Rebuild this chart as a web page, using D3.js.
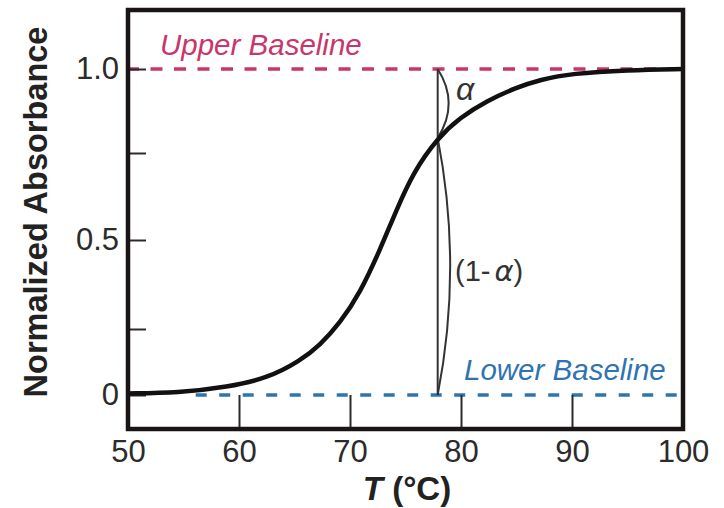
<!DOCTYPE html>
<html>
<head>
<meta charset="utf-8">
<script src="https://cdn.jsdelivr.net/npm/d3@7"></script>
<style>
  html, body { margin: 0; padding: 0; background: #fff; }
  svg { display: block; }
  text { font-family: "Liberation Sans", Arial, sans-serif; }
</style>
</head>
<body>
<svg id="chart" width="724" height="508"></svg>
<script>
// ---- data ----
const temperatures = [50, 54.5, 59, 62.6, 65.5, 67.3, 69.1, 70.9, 72.7, 74.1, 75.7, 77.9, 79.9, 82.3, 85, 87.1, 90, 95, 100];
const absorbance   = [0.006, 0.008, 0.030, 0.064, 0.129, 0.189, 0.267, 0.351, 0.472, 0.580, 0.695, 0.795, 0.855, 0.905, 0.945, 0.968, 0.987, 0.997, 1.0];
const xTickLabels = [50, 60, 70, 80, 90, 100];
const xInnerTicks = [60, 70, 80, 90];
const yTickLabels = [0, 0.5, 1.0];
const yMinorTicks = [0, 0.25, 0.5, 0.75, 1.0];
const upperBaseline = 1.0;
const lowerBaseline = 0.0;
const lowerBaselineStart = 56.1;
const markerT = 77.9;
const markerValue = 0.795;

const svg = d3.select("#chart");
const mLeft = 128, mRight = 683, mTop = 10, mBottom = 429;

const x = d3.scaleLinear().domain([50, 100]).range([mLeft, mRight]);
const y = d3.scaleLinear().domain([0, 0.25, 0.5, 0.75, 1.0]).range([395, 329, 240, 153, 69]);

// baselines
svg.append("line")
  .attr("x1", x(50) - 1).attr("x2", x(100))
  .attr("y1", y(upperBaseline)).attr("y2", y(upperBaseline))
  .attr("stroke", "#c8366b").attr("stroke-width", 3.5)
  .attr("stroke-dasharray", "12,11.5");
svg.append("line")
  .attr("x1", x(lowerBaselineStart)).attr("x2", x(100))
  .attr("y1", y(lowerBaseline)).attr("y2", y(lowerBaseline))
  .attr("stroke", "#2f74b0").attr("stroke-width", 3.5)
  .attr("stroke-dasharray", "11,12.5");

// inner x ticks
svg.append("g")
  .attr("transform", `translate(0,${mBottom})`)
  .call(d3.axisBottom(x).tickValues(xInnerTicks).tickSize(-(mBottom - y(0))).tickFormat(""))
  .call(g => g.select(".domain").remove())
  .call(g => g.selectAll("line").attr("stroke", "#2a2a2a").attr("stroke-width", 2));

// inner y ticks
svg.append("g")
  .attr("transform", `translate(${mLeft},0)`)
  .call(d3.axisLeft(y).tickValues(yMinorTicks).tickSize(-18).tickFormat(""))
  .call(g => g.select(".domain").remove())
  .call(g => g.selectAll("line").attr("stroke", "#2a2a2a").attr("stroke-width", 2));

// x labels
svg.append("g")
  .attr("transform", `translate(0,${mBottom})`)
  .call(d3.axisBottom(x).tickValues(xTickLabels).tickSize(0).tickPadding(11).tickFormat(d3.format("d")))
  .call(g => g.select(".domain").remove())
  .call(g => g.selectAll("text").attr("font-size", 31).attr("fill", "#2b2b2b")
      .attr("font-family", "'Liberation Sans', Arial, sans-serif"));

// y labels
svg.append("g")
  .attr("transform", `translate(${mLeft},0)`)
  .call(d3.axisLeft(y).tickValues(yTickLabels).tickSize(0).tickPadding(9)
      .tickFormat(d => d === 0 ? "0" : d3.format(".1f")(d)))
  .call(g => g.select(".domain").remove())
  .call(g => g.selectAll("text").attr("font-size", 31).attr("fill", "#2b2b2b")
      .attr("font-family", "'Liberation Sans', Arial, sans-serif"));

// marker vertical line and brackets
const mx = x(markerT);
svg.append("line")
  .attr("x1", mx).attr("x2", mx)
  .attr("y1", y(upperBaseline)).attr("y2", y(lowerBaseline))
  .attr("stroke", "#333").attr("stroke-width", 2);
function bracket(y1, y2, bulge) {
  const p = d3.path();
  p.moveTo(mx, y1);
  p.quadraticCurveTo(mx + bulge, (y1 + y2) / 2, mx, y2);
  return p.toString();
}
svg.append("path").attr("d", bracket(y(upperBaseline), y(markerValue), 22))
  .attr("fill", "none").attr("stroke", "#333").attr("stroke-width", 2);
svg.append("path").attr("d", bracket(y(markerValue), y(lowerBaseline), 25))
  .attr("fill", "none").attr("stroke", "#333").attr("stroke-width", 2);

// curve
const line = d3.line()
  .x((d, i) => x(temperatures[i]))
  .y(d => y(d))
  .curve(d3.curveBasis);
svg.append("path")
  .datum(absorbance)
  .attr("d", line)
  .attr("fill", "none")
  .attr("stroke", "#111")
  .attr("stroke-width", 4.5);

// frame
svg.append("rect")
  .attr("x", mLeft).attr("y", mTop)
  .attr("width", mRight - mLeft).attr("height", mBottom - mTop)
  .attr("fill", "none").attr("stroke", "#1a1414").attr("stroke-width", 4.5);

// annotations
svg.append("text").text("Upper Baseline")
  .attr("x", 160).attr("y", 55)
  .attr("font-size", 29.5).attr("font-style", "italic").attr("fill", "#c8366b");
svg.append("text").text("Lower Baseline")
  .attr("x", 464).attr("y", 380)
  .attr("font-size", 29.5).attr("font-style", "italic").attr("fill", "#2f74b0");
svg.append("text").text("α")
  .attr("x", 456).attr("y", 100)
  .attr("font-size", 32).attr("font-style", "italic").attr("fill", "#333")
  .attr("font-family", "'DejaVu Sans', sans-serif");
const oneMinus = svg.append("text")
  .attr("x", 455).attr("y", 281)
  .attr("font-size", 29).attr("fill", "#333");
oneMinus.append("tspan").text("(1-");
oneMinus.append("tspan").text("α").attr("font-style", "italic").attr("dx", 4)
  .attr("font-family", "'DejaVu Sans', sans-serif");
oneMinus.append("tspan").text(")");

// axis titles
const xt = svg.append("text")
  .attr("x", 407).attr("y", 500)
  .attr("text-anchor", "middle")
  .attr("font-size", 33).attr("font-weight", "bold").attr("fill", "#222");
xt.append("tspan").text("T").attr("font-style", "italic");
xt.append("tspan").text(" (°C)");

svg.append("text").text("Normalized Absorbance")
  .attr("transform", "translate(47,212) rotate(-90)")
  .attr("text-anchor", "middle")
  .attr("font-size", 32.5).attr("font-weight", "bold").attr("fill", "#222");
</script>
</body>
</html>
